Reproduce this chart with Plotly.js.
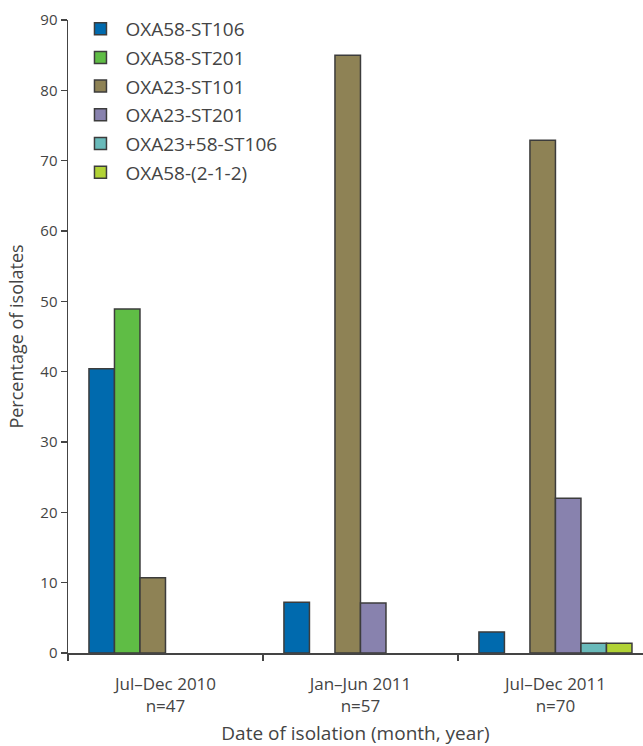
<!DOCTYPE html>
<html><head><meta charset="utf-8">
<script src="https://cdn.plot.ly/plotly-3.0.1.min.js"></script>
<style>html,body{margin:0;padding:0;background:#fff}#c{width:643px;height:746px}</style>
</head><body><div id="c"></div>
<script>
const categories = ["Jul–Dec 2010<br>n=47", "Jan–Jun 2011<br>n=57", "Jul–Dec 2011<br>n=70"];
const seriesNames = ["OXA58-ST106", "OXA58-ST201", "OXA23-ST101", "OXA23-ST201", "OXA23+58-ST106", "OXA58-(2-1-2)"];
const oxa58_st106 = [40.4, 7.2, 3.0];
const oxa58_st201 = [48.9, null, null];
const oxa23_st101 = [10.7, 85.0, 72.9];
const oxa23_st201 = [null, 7.1, 22.0];
const oxa23_58_st106 = [null, null, 1.4];
const oxa58_212 = [null, null, 1.4];
const yTicks = [0, 10, 20, 30, 40, 50, 60, 70, 80, 90];
const colors = ["#006aae", "#5fbd45", "#8e8255", "#8882ae", "#69baba", "#b1d235"];
const seriesValues = [oxa58_st106, oxa58_st201, oxa23_st101, oxa23_st201, oxa23_58_st106, oxa58_212];

const font = "Open Sans, Lato, sans-serif";
const traces = seriesNames.map((n, i) => ({
  type: "bar", name: n, x: categories, y: seriesValues[i],
  legendgroup: "g" + i,
  marker: {color: colors[i], line: {color: "#3c3c3c", width: 1.5}}
}));

const layout = {
  width: 643, height: 746,
  margin: {l: 68, r: 0, t: 20, b: 93},
  paper_bgcolor: "#fff", plot_bgcolor: "#fff",
  font: {family: font, color: "#444", size: 14},
  barmode: "group", bargap: 0.215, bargroupgap: 0,
  showlegend: true,
  legend: {x: 0.013, y: 1.016, xanchor: "left", yanchor: "top",
    font: {size: 19, color: "#444"}, traceorder: "grouped", tracegroupgap: 1,
    itemwidth: 40,
    bgcolor: "rgba(0,0,0,0)"},
  xaxis: {
    type: "category", range: [-0.5, 2.449], tickson: "boundaries",
    showline: true, linecolor: "#444", linewidth: 1.5,
    ticks: "outside", ticklen: 6, tickcolor: "#444", tickwidth: 1.5,
    showgrid: false, zeroline: false, ticklabelstandoff: 15,
    tickfont: {size: 17, color: "#444"},
    title: {text: "Date of isolation (month, year)", font: {size: 19, color: "#444"}, standoff: 22}
  },
  yaxis: {
    range: [0, 90], tickvals: yTicks, ticktext: yTicks.map(String),
    showline: true, linecolor: "#444", linewidth: 1.5,
    ticks: "outside", ticklen: 6, tickcolor: "#444", tickwidth: 1.5,
    showgrid: false, zeroline: false,
    tickfont: {size: 15, color: "#444"},
    title: {text: "Percentage of isolates", font: {size: 18, color: "#444"}, standoff: 12}
  }
};
Plotly.newPlot("c", traces, layout, {displayModeBar: false, staticPlot: true});
</script></body></html>
